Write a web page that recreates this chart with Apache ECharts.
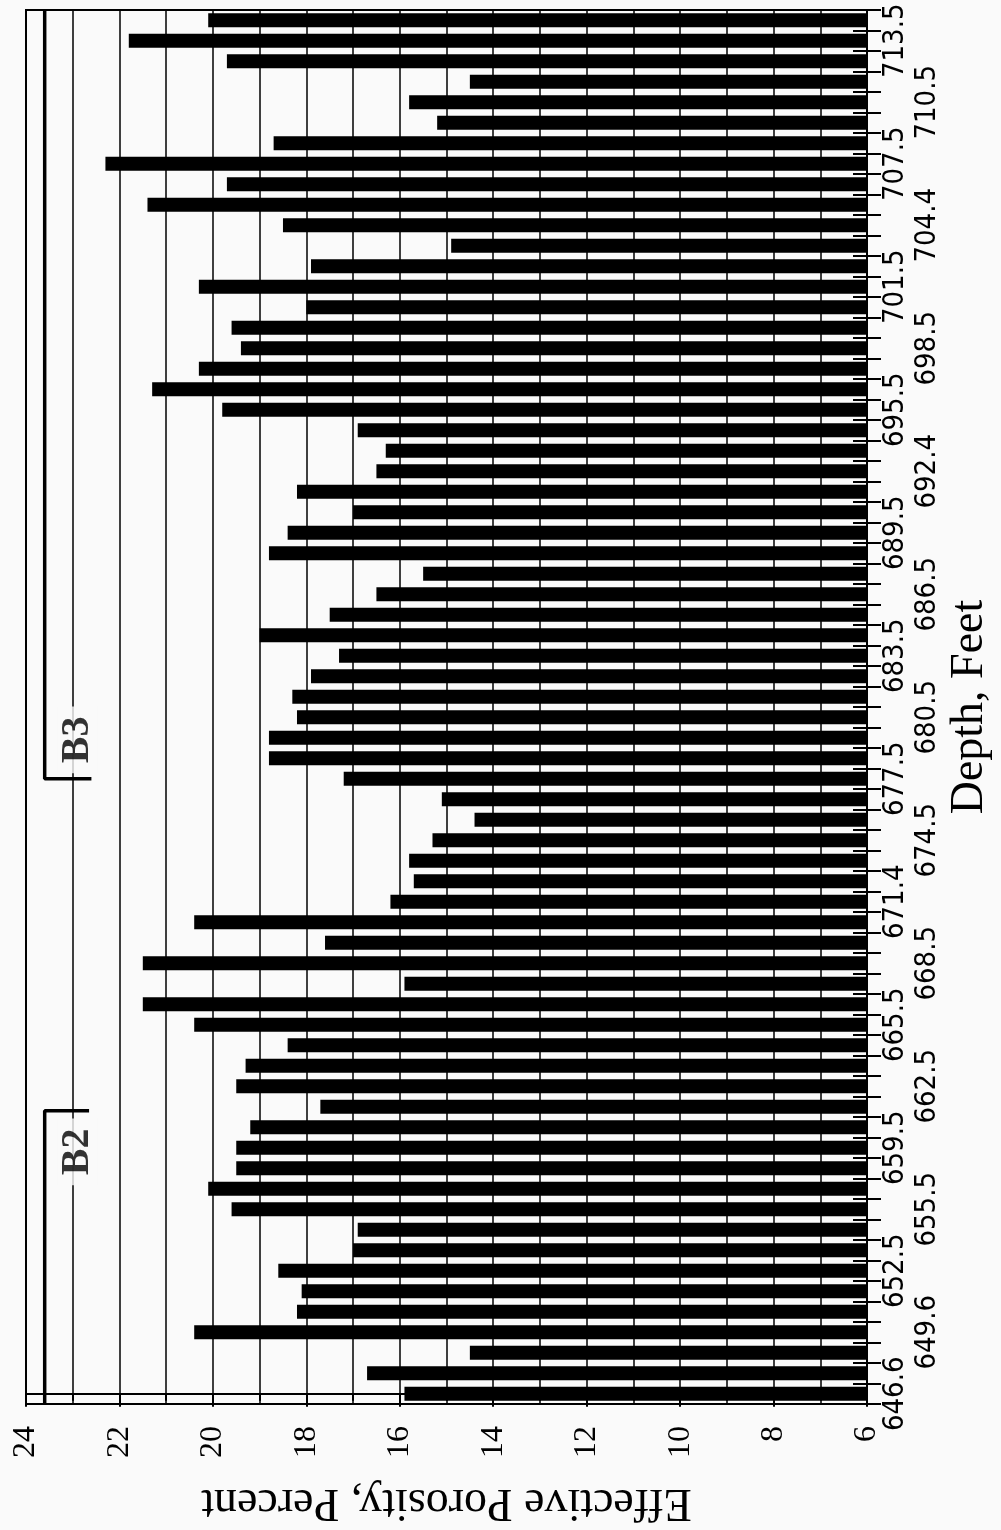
<!DOCTYPE html>
<html>
<head>
<meta charset="utf-8">
<script src="https://cdn.jsdelivr.net/npm/echarts@6/dist/echarts.min.js"></script>
<style>
html, body { margin: 0; padding: 0; background: #fafafa; }
#main { width: 1001px; height: 1530px; }
</style>
</head>
<body>
<div id="main"></div>
<script>
// porosity (%) per sample, from 646.6 ft (bottom) up to the deepest sample (top)
var porosity = [15.9, 16.7, 14.5, 20.4, 18.2, 18.1, 18.6, 17.0, 16.9, 19.6,
  20.1, 19.5, 19.5, 19.2, 17.7, 19.5, 19.3, 18.4, 20.4, 21.5,
  15.9, 21.5, 17.6, 20.4, 16.2, 15.7, 15.8, 15.3, 14.4, 15.1,
  17.2, 18.8, 18.8, 18.2, 18.3, 17.9, 17.3, 19.0, 17.5, 16.5,
  15.5, 18.8, 18.4, 17.0, 18.2, 16.5, 16.3, 16.9, 19.8, 21.3,
  20.3, 19.4, 19.6, 18.0, 20.3, 17.9, 14.9, 18.5, 21.4, 19.7,
  22.3, 18.7, 15.2, 15.8, 14.5, 19.7, 21.8, 20.1];
// depth labels, one on every third sample
var depthLabels = ['646.6', '649.6', '652.5', '655.5', '659.5', '662.5', '665.5', '668.5',
  '671.4', '674.5', '677.5', '680.5', '683.5', '686.5', '689.5', '692.4', '695.5',
  '698.5', '701.5', '704.4', '707.5', '710.5', '713.5'];
// zone brackets: [porosity, sample position]
var b2Line = [[23.6, -0.5], [23.6, 13.8], [22.65, 13.8]];
var b3Line = [[23.6, 67.5], [23.6, 30], [22.6, 30]];
var zoneLabels = [[22.9, 11.8, 'B2'], [22.9, 31.9, 'B3']];

// the depth labels alternate between an inner and an outer column
var innerCats = porosity.map(function (v, i) {
  return i % 6 === 0 ? depthLabels[i / 3] : '';
});
var outerCats = porosity.map(function (v, i) {
  return i % 6 === 3 ? depthLabels[i / 3] : '';
});

var serif = '"Liberation Serif", "Times New Roman", serif';
var narrow = '"Liberation Sans Narrow", "DejaVu Sans Condensed", "Liberation Sans", sans-serif';
var ink = '#000';

var chart = echarts.init(document.getElementById('main'));

var option = {
  backgroundColor: '#fafafa',
  animation: false,
  grid: {
    left: 26, right: 128, top: 10, bottom: 118,
    show: true, borderColor: ink, borderWidth: 2
  },
  xAxis: {
    type: 'value', inverse: true, min: 6, max: 24, interval: 2,
    position: 'bottom',
    axisLine: { show: true, lineStyle: { color: ink, width: 2 } },
    axisTick: { show: true, length: 13, lineStyle: { color: ink, width: 2 } },
    minorTick: { show: true, splitNumber: 2, length: 7, lineStyle: { color: ink, width: 2 } },
    splitLine: { show: true, lineStyle: { color: ink, width: 1.5 } },
    minorSplitLine: { show: true, lineStyle: { color: ink, width: 1.5 } },
    axisLabel: { rotate: 90, margin: 22, color: ink, fontSize: 32, fontFamily: serif },
    name: 'Effective Porosity, Percent',
    nameLocation: 'middle', nameRotate: 180, nameGap: 75,
    nameTextStyle: { color: ink, fontSize: 46, fontFamily: serif }
  },
  yAxis: [{
    // main depth axis: line, outer ticks, inner column of labels
    type: 'category', data: innerCats, position: 'right',
    axisLine: { show: true, lineStyle: { color: ink, width: 2 } },
    axisTick: { show: true, interval: 0, length: 14, lineStyle: { color: ink, width: 2 } },
    axisLabel: { interval: 0, rotate: 90, margin: 14, color: ink, fontSize: 29, fontFamily: narrow },
    name: 'Depth, Feet',
    nameLocation: 'middle', nameRotate: 90, nameGap: 80,
    nameTextStyle: { color: ink, fontSize: 46, fontFamily: serif }
  }, {
    // outer column of labels
    type: 'category', data: outerCats, position: 'right', offset: 32,
    axisLine: { show: false },
    axisTick: { show: false },
    axisLabel: { interval: 0, rotate: 90, margin: 14, color: ink, fontSize: 29, fontFamily: narrow }
  }, {
    // inner half of the cross ticks
    type: 'category', data: innerCats, position: 'right',
    axisLine: { show: false },
    axisTick: { show: true, inside: true, interval: 0, length: 14, lineStyle: { color: ink, width: 2 } },
    axisLabel: { show: false }
  }, {
    type: 'value', min: -0.5, max: porosity.length - 0.5, show: false
  }],
  series: [{
    type: 'bar', data: porosity, xAxisIndex: 0, yAxisIndex: 0,
    barWidth: 14, itemStyle: { color: ink }, z: 3
  }, {
    type: 'line', data: b2Line, xAxisIndex: 0, yAxisIndex: 3,
    symbol: 'none', lineStyle: { color: ink, width: 3.5 }, z: 4
  }, {
    type: 'line', data: b3Line, xAxisIndex: 0, yAxisIndex: 3,
    symbol: 'none', lineStyle: { color: ink, width: 3.5 }, z: 4
  }, {
    type: 'scatter', data: zoneLabels, xAxisIndex: 0, yAxisIndex: 3,
    symbolSize: 1, itemStyle: { color: 'rgba(0,0,0,0)' }, z: 5,
    label: {
      show: true, position: 'inside', rotate: 90,
      formatter: function (p) { return p.data[2]; },
      color: ink, fontSize: 40, fontWeight: 'bold', fontFamily: serif,
      backgroundColor: '#fafafa', padding: [0, 10]
    }
  }]
};

chart.setOption(option);
</script>
</body>
</html>
